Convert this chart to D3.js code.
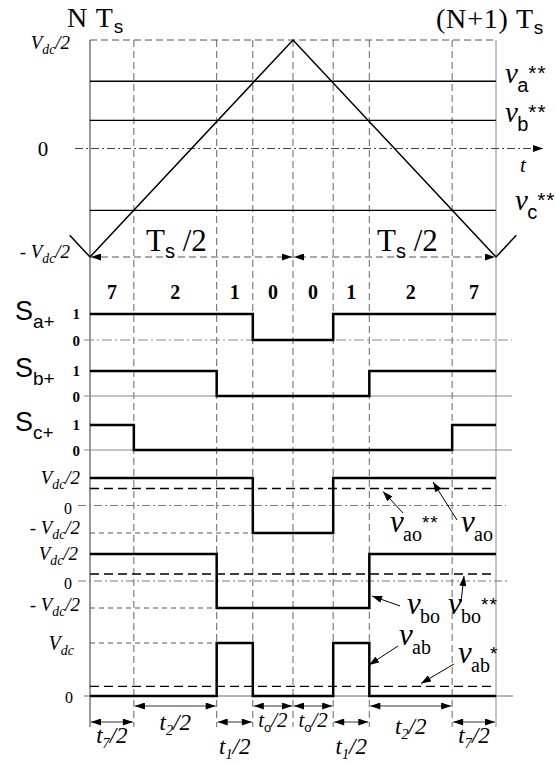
<!DOCTYPE html>
<html>
<head>
<meta charset="utf-8">
<script src="https://cdn.jsdelivr.net/npm/d3@7"></script>
<style>
body { margin: 0; background: #fff; }
</style>
</head>
<body>
<svg id="chart" width="556" height="764"></svg>
<script>
// switching instants over one carrier period (in units of Ts)
const edges = [0, 0.108, 0.312, 0.401, 0.5, 0.599, 0.688, 0.892, 1];
const sectors = ["7", "2", "1", "0", "0", "1", "2", "7"];

// gate signals per segment
const Sa = [1, 1, 1, 0, 0, 1, 1, 1];
const Sb = [1, 1, 0, 0, 0, 0, 1, 1];
const Sc = [1, 0, 0, 0, 0, 0, 0, 1];

// pole / line voltages per segment (vao, vbo in Vdc/2, vab in Vdc)
const vao = [1, 1, 1, -1, -1, 1, 1, 1];
const vbo = [1, 1, -1, -1, -1, -1, 1, 1];
const vab = [0, 0, 1, 0, 0, 1, 0, 0];

// references (in Vdc/2) and averages
const refNames = ["a", "b", "c"];
const refValues = [0.62, 0.26, -0.57];
const avgValues = [0.62, 0.26, 0.18];   // vao**, vbo**, vab*

// triangular carrier (t in Ts, value in Vdc/2)
const carrier = [[-0.05, -0.8], [0, -1], [0.5, 1], [1, -1], [1.05, -0.8]];

// half-duration labels under the chart
const durRow1 = [[1, 2, "2"], [3, 4, "o"], [4, 5, "o"], [6, 7, "2"]];
const durRow2 = [[0, 1, "7"], [2, 3, "1"], [5, 6, "1"], [7, 8, "7"]];

const SERIF = "'Liberation Serif', 'Times New Roman', serif";
const SANS = "'Liberation Sans', Arial, sans-serif";

const svg = d3.select("#chart");
const x = d3.scaleLinear().domain([0, 1]).range([90, 496]);
const yTop = d3.scaleLinear().domain([-1, 1]).range([257, 40]);
const yAo = d3.scaleLinear().domain([-1, 1]).range([533, 478]);
const yBo = d3.scaleLinear().domain([-1, 1]).range([608, 554]);
const yAb = d3.scaleLinear().domain([0, 1]).range([696, 643]);
const BOTTOM = 727;

// arrow head
svg.append("defs").append("marker")
	.attr("id", "arr")
	.attr("viewBox", "0 0 10 7")
	.attr("refX", 10).attr("refY", 3.5)
	.attr("markerUnits", "userSpaceOnUse")
	.attr("markerWidth", 11).attr("markerHeight", 7)
	.attr("orient", "auto-start-reverse")
	.append("path").attr("d", "M0,0L10,3.5L0,7z").attr("fill", "#000");

function hline(x1, x2, y, opts) {
	opts = opts || {};
	return svg.append("line")
		.attr("x1", x1).attr("x2", x2).attr("y1", y).attr("y2", y)
		.attr("stroke", opts.color || "#000")
		.attr("stroke-width", opts.w || 1)
		.attr("stroke-dasharray", opts.dash || null);
}

// text with sub/superscripts
function rich(px, py, parts, anchor) {
	const t = svg.append("text")
		.attr("x", px).attr("y", py)
		.attr("text-anchor", anchor || "start")
		.attr("fill", "#000");
	let shift = 0;
	parts.forEach(p => {
		const ts = t.append("tspan").text(p.t)
			.attr("font-size", p.size || 20)
			.attr("font-family", p.font || SERIF);
		const target = p.dy || 0;
		if (target - shift !== 0) ts.attr("dy", target - shift);
		shift = target;
		if (p.it) ts.attr("font-style", "italic");
		if (p.bold) ts.attr("font-weight", "bold");
		if (p.dx) ts.attr("dx", p.dx);
		if (p.ls) ts.attr("letter-spacing", p.ls);
	});
	return t;
}

// v with subscript and a raised superscript right after it
function vSym(px, py, sub, sup, o) {
	const t = svg.append("text").attr("fill", "#000");
	t.append("tspan").attr("x", px).attr("y", py)
		.attr("font-family", SERIF).attr("font-size", o.vs).attr("font-style", "italic")
		.text("v");
	const s = t.append("tspan").attr("x", px + o.vs * 0.42).attr("y", py + o.dsub)
		.attr("font-family", o.subFont || SERIF).attr("font-size", o.ss)
		.text(sub);
	if (sup) {
		const subEnd = px + o.vs * 0.42 + s.node().getComputedTextLength();
		t.append("tspan").attr("x", subEnd - (o.back || 0)).attr("y", py + (o.dsup || 0))
			.attr("font-family", SANS).attr("font-size", o.ps || 19)
			.attr("letter-spacing", 1)
			.text(sup);
	}
}

function vdcHalf(px, py, neg, size) {
	size = size || 19;
	const parts = [];
	if (neg) parts.push({t: "- ", size: size});
	parts.push({t: "V", it: true, size: size});
	parts.push({t: "dc", it: true, size: size * 0.72, dy: 5});
	parts.push({t: "/2", it: true, size: size, dy: 0});
	return rich(px, py, parts, "end");
}

// ---------- grid lines ----------
edges.slice(1, -1).forEach(e => {
	svg.append("line")
		.attr("x1", x(e)).attr("x2", x(e))
		.attr("y1", yTop(1)).attr("y2", BOTTOM)
		.attr("stroke", "#666").attr("stroke-width", 1)
		.attr("stroke-dasharray", "7,4");
});
svg.append("line").attr("x1", x(0)).attr("x2", x(0))
	.attr("y1", yTop(1)).attr("y2", BOTTOM)
	.attr("stroke", "#333").attr("stroke-width", 1);
svg.append("line").attr("x1", x(1)).attr("x2", x(1))
	.attr("y1", yTop(1)).attr("y2", BOTTOM)
	.attr("stroke", "#888").attr("stroke-width", 1);

// ---------- top panel ----------
hline(x(0), x(1), yTop(1), {dash: "7,4", color: "#555"});
svg.append("line")
	.attr("x1", 75).attr("x2", 543).attr("y1", yTop(0)).attr("y2", yTop(0))
	.attr("stroke", "#444").attr("stroke-width", 1)
	.attr("stroke-dasharray", "8,3,2,3")
	.attr("marker-end", "url(#arr)");
rich(520, 172, [{t: "t", it: true, size: 21}]);

refValues.forEach(v => hline(x(0), x(1), yTop(v), {w: 1.3}));

svg.append("path")
	.datum(carrier)
	.attr("d", d3.line().x(d => x(d[0])).y(d => yTop(d[1])))
	.attr("fill", "none").attr("stroke", "#000").attr("stroke-width", 1.5);

// Ts/2 dimension arrows at -Vdc/2
hline(x(0), x(1), yTop(-1), {dash: "7,4", color: "#555"});
[[0, 0.5], [0.5, 1]].forEach(d => {
	svg.append("line")
		.attr("x1", x(d[0]) + 1).attr("x2", x(d[1]) - 1)
		.attr("y1", yTop(-1)).attr("y2", yTop(-1))
		.attr("stroke", "#000").attr("stroke-width", 0.01)
		.attr("marker-start", "url(#arr)").attr("marker-end", "url(#arr)");
});
rich(146, 251, [{t: "T", size: 31}, {t: "s", size: 20, font: SANS, dy: 7}, {t: " /2", size: 31, dy: 0}]);
rich(377, 251, [{t: "T", size: 31}, {t: "s", size: 20, font: SANS, dy: 7}, {t: " /2", size: 31, dy: 0}]);

// top labels
rich(67, 27, [{t: "N T", size: 28, ls: 1}, {t: "s", size: 19, font: SANS, dy: 6}]);
rich(436, 28, [{t: "(N+1) T", size: 28, ls: 0.8}, {t: "s", size: 19, font: SANS, dy: 6}]);
vdcHalf(70, 49, false);
rich(43, 156, [{t: "0", size: 21}], "middle");
vdcHalf(70, 258, true);

refValues.forEach((v, i) => {
	const px = i === 2 ? 515 : 505;
	const py = yTop(v) + (i === 2 ? 0 : 2);
	vSym(px, py, refNames[i], "**", {vs: 29, ss: 20, dsub: 9, subFont: SANS, dsup: -3, ps: 21});
});

// sector numbers
sectors.forEach((s, i) => {
	svg.append("text")
		.attr("x", x((edges[i] + edges[i + 1]) / 2)).attr("y", 299)
		.attr("text-anchor", "middle")
		.attr("font-family", SERIF).attr("font-size", 20).attr("font-weight", "bold")
		.text(s);
});

// ---------- gate signals ----------
function stepPoints(levels) {
	const pts = [];
	levels.forEach((v, i) => { pts.push([edges[i], v]); pts.push([edges[i + 1], v]); });
	return pts;
}
function drawStep(levels, yScale) {
	svg.append("path")
		.datum(stepPoints(levels))
		.attr("d", d3.line().x(d => x(d[0])).y(d => yScale(d[1])))
		.attr("fill", "none").attr("stroke", "#000").attr("stroke-width", 2.5);
}

const gates = [
	{label: "a+", s: Sa, y: d3.scaleLinear().domain([0, 1]).range([340, 314])},
	{label: "b+", s: Sb, y: d3.scaleLinear().domain([0, 1]).range([396, 371])},
	{label: "c+", s: Sc, y: d3.scaleLinear().domain([0, 1]).range([450, 425])}
];
gates.forEach((g, i) => {
	hline(84, 512, g.y(0), {color: "#888", dash: i === 0 ? "10,3,2,3" : null});
	drawStep(g.s, g.y);
	rich(15, g.y(1) + 6, [{t: "S", size: 27, font: SANS}, {t: g.label, size: 19, font: SANS, dy: 8}]);
	rich(80, g.y(1) + 5, [{t: "1", size: 15, bold: true}], "end");
	rich(80, g.y(0) + 6, [{t: "0", size: 15, bold: true}], "end");
});

// ---------- vao ----------
hline(78, 506, yAo(0), {color: "#777", dash: "8,3,2,3"});
hline(x(0), x(edges[3]), yAo(-1), {color: "#555", dash: "5,4"});
hline(x(0), x(1), yAo(avgValues[0]), {w: 1.5, dash: "9,5"});
drawStep(vao, yAo);
vdcHalf(80, 484, false);
rich(72, 514, [{t: "0", size: 16}], "end");
vdcHalf(80, 534, true);

// ---------- vbo ----------
hline(78, 510, yBo(0), {color: "#777", dash: "8,3,2,3"});
hline(x(0), x(edges[2]), yBo(-1), {color: "#555", dash: "5,4"});
hline(x(0), x(1), yBo(avgValues[1]), {w: 1.5, dash: "9,5"});
drawStep(vbo, yBo);
vdcHalf(78, 560, false);
rich(72, 589, [{t: "0", size: 16}], "end");
vdcHalf(80, 611, true);

// ---------- vab ----------
hline(84, 513, yAb(0), {color: "#666"});
hline(x(0), x(edges[2]), yAb(1), {color: "#555", dash: "5,4"});
hline(x(0), x(1), yAb(avgValues[2]), {w: 1.2, dash: "9,5"});
drawStep(vab, yAb);
rich(74, 650, [{t: "V", it: true, size: 20}, {t: "dc", it: true, size: 14, dy: 5}], "end");
rich(73, 703, [{t: "0", size: 16}], "end");

// ---------- annotations ----------
function annot(x1, y1, x2, y2) {
	svg.append("line")
		.attr("x1", x1).attr("y1", y1).attr("x2", x2).attr("y2", y2)
		.attr("stroke", "#000").attr("stroke-width", 1)
		.attr("marker-end", "url(#arr)");
}
const ann = {vs: 31, ss: 20, dsub: 9, dsup: -3, ps: 19};

annot(403, 513, 383, yAo(avgValues[0]) + 3);
vSym(390, 532, "ao", "**", ann);
annot(457, 520, 433, 482);
vSym(461, 532, "ao", null, ann);

annot(400, 606, 372, 596);
vSym(407, 614, "bo", null, ann);
annot(461, 602, 464, yBo(avgValues[1]) + 2);
vSym(448, 614, "bo", "**", ann);

annot(398, 646, 369, 665);
vSym(399, 645, "ab", null, ann);
annot(454, 664, 421, yAb(avgValues[2]) - 3);
vSym(458, 663, "ab", "*", ann);

// ---------- duration arrows ----------
function durArrow(a, b, py) {
	svg.append("line")
		.attr("x1", x(edges[a]) + 1).attr("x2", x(edges[b]) - 1)
		.attr("y1", py).attr("y2", py)
		.attr("stroke", "#333").attr("stroke-width", 1)
		.attr("marker-start", "url(#arr)").attr("marker-end", "url(#arr)");
}
function tLabel(px, py, sub, size) {
	size = size || 23;
	rich(px, py, [
		{t: "t", it: true, size: size},
		{t: sub, it: sub !== "o", size: size * 0.62, font: sub === "o" ? SANS : SERIF, dy: 5},
		{t: "/2", it: true, size: size, dy: 0}
	], "middle");
}
durRow1.forEach(d => durArrow(d[0], d[1], 706));
durRow2.forEach(d => durArrow(d[0], d[1], 722));

durRow1.forEach(d => {
	const cx = x((edges[d[0]] + edges[d[1]]) / 2);
	if (d[2] === "o") tLabel(cx, 727, d[2], 21);
	else tLabel(cx, d[0] < 4 ? 730 : 734, d[2]);
});
durRow2.forEach(d => {
	const cx = x((edges[d[0]] + edges[d[1]]) / 2);
	tLabel(cx, d[2] === "7" ? 743 : 754, d[2]);
});
</script>
</body>
</html>
